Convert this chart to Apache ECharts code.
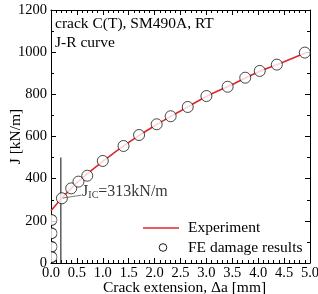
<!DOCTYPE html>
<html><head><meta charset="utf-8">
<script src="https://cdn.jsdelivr.net/npm/echarts@6/dist/echarts.min.js"></script>
<style>html,body{margin:0;padding:0;background:#fff}#c{width:318px;height:294px}</style>
</head><body><div id="c"></div>
<script>
// Experiment J-R curve
const expX = [0, 0.2, 0.5, 1.0, 1.5, 2.0, 2.5, 3.0, 3.5, 4.0, 4.5, 4.93];
const expJ = [248, 305, 380, 482, 572, 651, 721, 790, 847, 906, 955, 998];
// FE damage results
const feX = [0.21, 0.39, 0.53, 0.70, 1.0, 1.40, 1.70, 2.04, 2.31, 2.64, 3.0, 3.41, 3.75, 4.03, 4.36, 4.90];
const feJ = [307, 354, 386, 414, 484, 555, 607, 658, 696, 740, 792, 836, 879, 911, 941, 998];
// FE points on the J axis (blunting stage)
const feStartX = [0, 0, 0, 0];
const feStartJ = [204, 141, 77, 28];
// J_IC vertical line and annotation
const jicLineX = [0.19, 0.19];
const jicLineJ = [0, 500];
const leaderX = [0.23, 0.59];
const leaderJ = [308, 322];
const labelPt = [0.6, 340];
const xTicks = {min: 0, max: 5, interval: 0.5};
const yTicks = {min: 0, max: 1200, interval: 200};
const legendNames = ['Experiment', 'FE damage results'];

const zip = (a, b) => a.map((v, i) => [v, b[i]]);
const serif = 'Liberation Serif';
const red = '#e0262a';
const axisCommon = {
  axisLine: {onZero: false, lineStyle: {color: '#000', width: 1}},
  axisTick: {inside: true, length: 5, lineStyle: {color: '#000'}},
  splitLine: {show: false}
};
const txt = {fontFamily: serif, fontSize: 15.5, fill: '#000'};
const chart = echarts.init(document.getElementById('c'));
chart.setOption({
  animation: false,
  backgroundColor: '#fff',
  title: {
    text: 'crack C(T), SM490A, RT\nJ-R curve',
    left: 55, top: 14, padding: 0,
    textStyle: {fontFamily: serif, fontSize: 15.5, fontWeight: 'normal', color: '#000', lineHeight: 19}
  },
  grid: {left: 51, right: 8, top: 10, bottom: 31, containLabel: false, outerBoundsMode: 'none'},
  graphic: [
    {type: 'line', shape: {x1: 143, y1: 228, x2: 179, y2: 228}, style: {stroke: red, lineWidth: 1.6}},
    {type: 'text', x: 188, y: 228, style: Object.assign({text: legendNames[0], verticalAlign: 'middle'}, txt)},
    {type: 'circle', shape: {cx: 163, cy: 247.5, r: 3.8}, style: {fill: '#fff', stroke: '#000', lineWidth: 0.9}},
    {type: 'text', x: 188, y: 247.5, style: Object.assign({text: legendNames[1], verticalAlign: 'middle'}, txt)}
  ],
  xAxis: [
    Object.assign({}, axisCommon, {
      type: 'value', position: 'bottom', min: xTicks.min, max: xTicks.max, interval: xTicks.interval,
      minorTick: {show: true, splitNumber: 5, length: 3, lineStyle: {color: '#000'}},
      axisLabel: {formatter: v => v.toFixed(1), fontFamily: serif, fontSize: 14.5, color: '#000', margin: 3},
      name: 'Crack extension, \u0394a [mm]', nameLocation: 'middle', nameGap: 17, nameMoveOverlap: false,
      nameTextStyle: {fontFamily: serif, fontSize: 15.5, color: '#000', padding: [0, 0, 0, 8]}
    }),
    Object.assign({}, axisCommon, {
      type: 'value', position: 'top', min: xTicks.min, max: xTicks.max, interval: xTicks.interval,
      minorTick: {show: true, splitNumber: 5, length: 3, lineStyle: {color: '#000'}},
      axisLabel: {show: false}
    })
  ],
  yAxis: [
    Object.assign({}, axisCommon, {
      type: 'value', position: 'left', min: yTicks.min, max: yTicks.max, interval: yTicks.interval,
      minorTick: {show: true, splitNumber: 2, length: 3, lineStyle: {color: '#000'}},
      axisLabel: {formatter: v => String(v), fontFamily: serif, fontSize: 14.5, color: '#000', margin: 4},
      name: 'J [kN/m]', nameLocation: 'middle', nameGap: 27, nameMoveOverlap: false,
      nameTextStyle: {fontFamily: serif, fontSize: 15.5, color: '#000'}
    }),
    Object.assign({}, axisCommon, {
      type: 'value', position: 'right', min: yTicks.min, max: yTicks.max, interval: yTicks.interval,
      minorTick: {show: true, splitNumber: 2, length: 3, lineStyle: {color: '#000'}},
      axisLabel: {show: false}
    })
  ],
  series: [
    {name: 'JIC line', type: 'line', data: zip(jicLineX, jicLineJ), symbol: 'none',
     lineStyle: {color: '#333', width: 1.2}, z: 1},
    {name: legendNames[0], type: 'line', data: zip(expX, expJ), smooth: 0.3, symbol: 'none',
     itemStyle: {color: red}, lineStyle: {color: red, width: 1.6}, z: 2},
    {name: legendNames[1], type: 'scatter', data: zip(feX, feJ), symbol: 'circle', symbolSize: 11,
     itemStyle: {color: '#fff', borderColor: '#000', borderWidth: 0.9}, z: 3},
    {name: 'FE start', type: 'scatter', data: zip(feStartX, feStartJ),
     symbol: 'path://M0,0 C66.7,0 66.7,100 0,100', symbolSize: [6, 11], symbolOffset: [3, 0],
     itemStyle: {color: '#fff', borderColor: '#000', borderWidth: 0.9}, z: 3},
    {name: 'leader', type: 'line', data: zip(leaderX, leaderJ), symbol: 'none',
     lineStyle: {color: '#555', width: 0.8}, z: 4},
    {name: 'label', type: 'scatter', data: [labelPt], symbol: 'circle', symbolSize: 0, silent: true,
     itemStyle: {color: 'transparent'},
     label: {show: true, position: 'right', distance: 0,
       formatter: '{a|J}{s|IC}{a|=313kN/m}',
       rich: {a: {fontFamily: serif, fontSize: 16, color: '#000'},
              s: {fontFamily: serif, fontSize: 10, color: '#000', verticalAlign: 'bottom', padding: [9, 0, 0, 0]}}}}
  ]
});
</script></body></html>
